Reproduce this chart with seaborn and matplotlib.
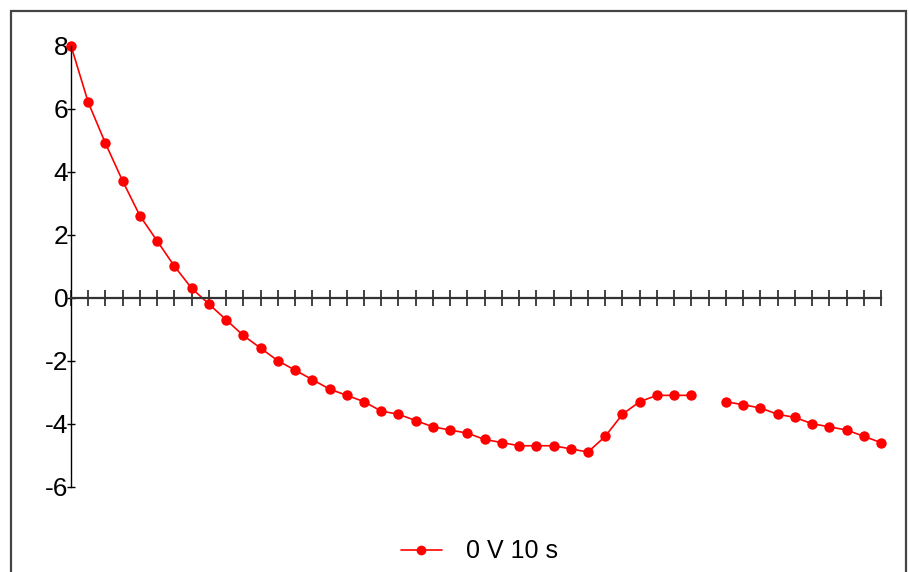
import numpy as np
import pandas as pd
import matplotlib as mpl
import matplotlib.pyplot as plt
from matplotlib.lines import Line2D
from matplotlib.patches import Rectangle
import seaborn as sns

sns.set_style("white")
mpl.rc('font', family=['Liberation Sans', 'DejaVu Sans'])
mpl.rc('axes', unicode_minus=False)
mpl.rc('text', color='black')

# one reading per step, step 37 has no value
values = [8.0, 6.2, 4.9, 3.7, 2.6, 1.8, 1.0, 0.3, -0.2, -0.7,
          -1.2, -1.6, -2.0, -2.3, -2.6, -2.9, -3.1, -3.3, -3.6, -3.7,
          -3.9, -4.1, -4.2, -4.3, -4.5, -4.6, -4.7, -4.7, -4.7, -4.8,
          -4.9, -4.4, -3.7, -3.3, -3.1, -3.1, -3.1, np.nan, -3.3, -3.4,
          -3.5, -3.7, -3.8, -4.0, -4.1, -4.2, -4.4, -4.6]
y_ticks = [-6, -4, -2, 0, 2, 4, 6, 8]
series_name = "0 V 10 s"

df = pd.DataFrame({"step": np.arange(len(values)), "value": values})
df["seg"] = df["value"].isna().cumsum()
df = df.dropna()

fig = plt.figure(figsize=(9.09, 5.72), dpi=100)
ax = fig.add_axes([71 / 909, 1 - 486.7 / 572, 810 / 909, 441 / 572])

sns.lineplot(data=df, x="step", y="value", units="seg", estimator=None,
             color="red", marker="o", markersize=7.5, markeredgewidth=0,
             linewidth=1.2, clip_on=False, ax=ax)

ax.set_xlim(0, len(values) - 1)
ax.set_ylim(-6, 8)
for s in ["top", "right"]:
    ax.spines[s].set_visible(False)
ax.spines["bottom"].set_position(("data", 0))
ax.spines["bottom"].set_color("#333333")
ax.spines["bottom"].set_linewidth(1.6)
ax.spines["left"].set_color("black")
ax.spines["left"].set_linewidth(1.0)

ax.set_xticks(np.arange(len(values)))
ax.set_xticklabels([])
ax.tick_params(axis="x", direction="inout", length=12, width=1.3,
               color="#333333", bottom=True)
ax.set_yticks(y_ticks)
ax.tick_params(axis="y", direction="inout", length=6, width=1.0,
               color="black", left=True, labelsize=19, labelcolor="black",
               pad=-1)
ax.set_xlabel("")
ax.set_ylabel("")

handle = Line2D([], [], color="red", marker="o", markersize=7,
                markeredgewidth=0, linewidth=1.2)
fig.legend([handle], [series_name], loc="center",
           bbox_to_anchor=(0.527, 0.036), frameon=False, fontsize=18,
           handlelength=1.65, handletextpad=0.95, labelcolor="black")

fig.patches.append(Rectangle((10.5 / 909, -0.1), 895 / 909, 1.1 - 10.5 / 572,
                             transform=fig.transFigure, fill=False,
                             edgecolor="#444444", linewidth=1.6))

fig.savefig("out.png", dpi=100)
